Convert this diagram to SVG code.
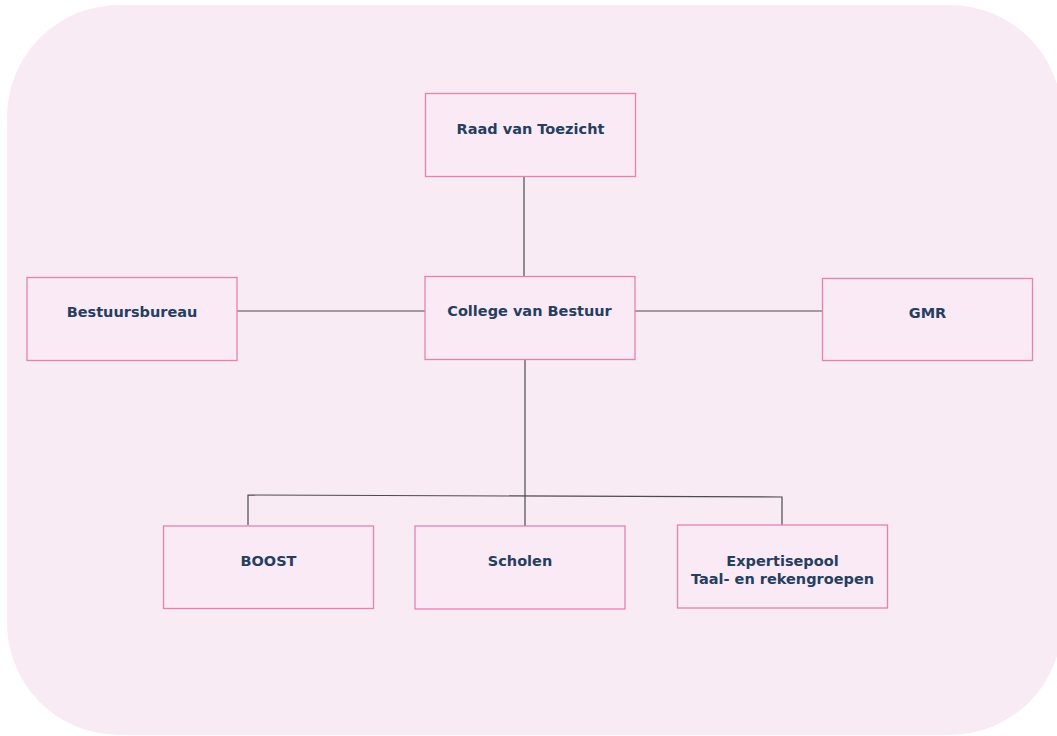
<svg xmlns="http://www.w3.org/2000/svg" width="1057" height="736" viewBox="0 0 1057 736">
<style>
.bg{fill:#f8ebf4}
.box{fill:#f9eaf5;stroke:#e582b1;stroke-width:1.3}
.lbl{font-family:"DejaVu Sans",Verdana,sans-serif;font-weight:bold;font-size:14.5px;fill:#263e5f;text-anchor:middle}
.con{fill:none;stroke:#4e4a55;stroke-width:1.2}
</style>
<rect width="1057" height="736" fill="#ffffff"/>
<rect class="bg" x="7" y="5" width="1055" height="730" rx="112" ry="112"/>
<g id="connectors">
<line class="con" x1="524" y1="177" x2="524" y2="276"/>
<line class="con" x1="237" y1="311" x2="425" y2="311"/>
<line class="con" x1="635" y1="311" x2="822" y2="311"/>
<line class="con" x1="525" y1="360" x2="525" y2="526"/>
<polyline class="con" points="248,525 248,495 782,497 782,525"/>
</g>
<g id="raad">
<rect class="box" x="425.5" y="93.5" width="210" height="83"/>
<text class="lbl" x="530.5" y="134">Raad van Toezicht</text>
</g>
<g id="bestuursbureau">
<rect class="box" x="27" y="277.5" width="210" height="83"/>
<text class="lbl" x="132" y="317">Bestuursbureau</text>
</g>
<g id="college">
<rect class="box" x="425" y="276.5" width="210" height="83"/>
<text class="lbl" x="529.5" y="316">College van Bestuur</text>
</g>
<g id="gmr">
<rect class="box" x="822.5" y="278.5" width="210" height="82"/>
<text class="lbl" x="927.5" y="318">GMR</text>
</g>
<g id="boost">
<rect class="box" x="163.5" y="526" width="210" height="82.5"/>
<text class="lbl" x="268.5" y="566">BOOST</text>
</g>
<g id="scholen">
<rect class="box" x="415" y="526" width="210" height="83"/>
<text class="lbl" x="520" y="566">Scholen</text>
</g>
<g id="expertisepool">
<rect class="box" x="677.5" y="525" width="210" height="83"/>
<text class="lbl" x="782.5" y="566">Expertisepool</text>
<text class="lbl" x="782.5" y="584">Taal- en rekengroepen</text>
</g>
</svg>
